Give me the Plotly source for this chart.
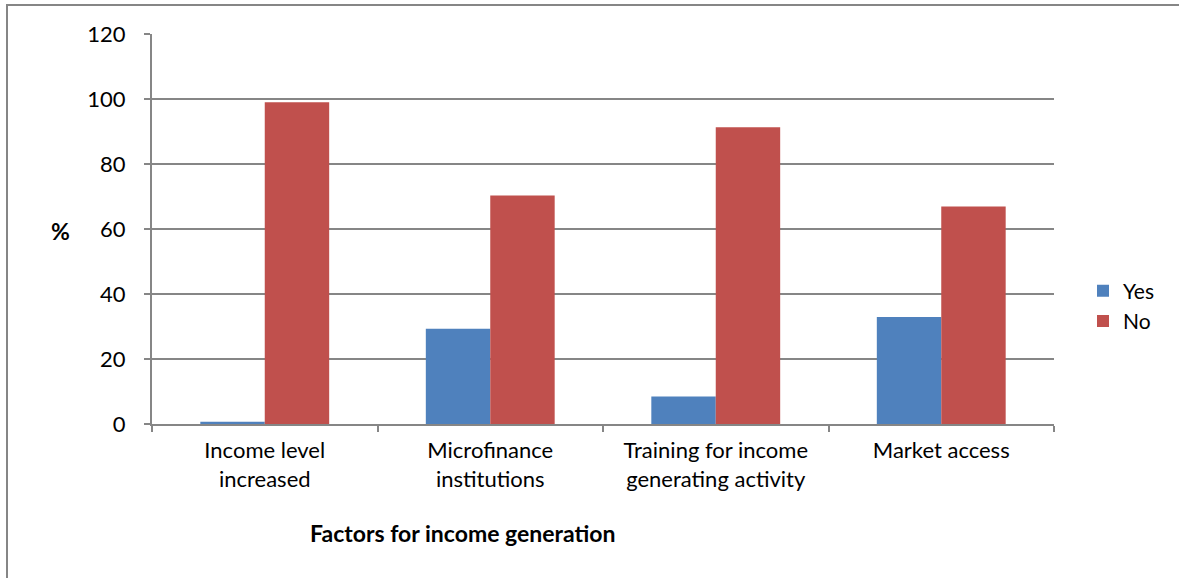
import plotly.graph_objects as go

# Survey results: share of respondents answering Yes / No per factor (%)
categories = [
    "Income level<br>increased",
    "Microfinance<br>institutions",
    "Training for income<br>generating activity",
    "Market access",
]
yes_values = [0.7, 29.3, 8.5, 32.9]
no_values = [99.0, 70.3, 91.3, 66.9]
y_ticks = [0, 20, 40, 60, 80, 100, 120]

FONT = "Lato, 'Open Sans', sans-serif"
GRID = "#868686"

fig = go.Figure()
fig.add_trace(go.Bar(name="Yes", x=categories, y=yes_values,
                     marker=dict(color="#4F81BD", line=dict(width=0))))
fig.add_trace(go.Bar(name="No", x=categories, y=no_values,
                     marker=dict(color="#C0504D", line=dict(width=0))))

W, H = 1179, 578
L, R, T, B = 152, 125, 34, 154
pw, ph = W - L - R, H - T - B


def px_x(x):
    return (x - L) / pw


def px_y(y):
    return (H - B - y) / ph


fig.update_layout(
    width=W, height=H,
    margin=dict(l=L, r=R, t=T, b=B),
    paper_bgcolor="white", plot_bgcolor="white",
    font=dict(family=FONT, size=22, color="black"),
    barmode="group", bargap=0.4286, bargroupgap=0,
    showlegend=True,
    legend=dict(x=px_x(1083), y=px_y(306), xanchor="left", yanchor="middle",
                font=dict(size=21), bgcolor="rgba(0,0,0,0)",
                itemwidth=30, tracegroupgap=0),
    xaxis=dict(
        type="category", tickson="boundaries", ticks="outside", ticklen=6,
        tickcolor=GRID, tickwidth=1.5, showline=True, linecolor=GRID, linewidth=2,
        showgrid=False, tickfont=dict(size=22), ticklabelstandoff=6,
        fixedrange=True,
    ),
    yaxis=dict(
        range=[0, 120], tickvals=y_ticks, ticks="outside", ticklen=6,
        tickcolor=GRID, tickwidth=1.5, showline=True, linecolor=GRID, linewidth=2,
        showgrid=True, gridcolor=GRID, gridwidth=1.5, zeroline=False,
        tickfont=dict(size=22), ticklabelstandoff=14, fixedrange=True,
    ),
    annotations=[
        dict(text="<b>%</b>", xref="paper", yref="paper", x=px_x(60), y=px_y(231),
             showarrow=False, font=dict(size=23), xanchor="center", yanchor="middle"),
        dict(text="<b>Factors for income generation</b>", xref="paper", yref="paper",
             x=px_x(462), y=px_y(533), showarrow=False, font=dict(size=23),
             xanchor="center", yanchor="middle"),
    ],
    shapes=[
        dict(type="rect", xref="paper", yref="paper",
             x0=px_x(7), y0=px_y(600), x1=px_x(1200), y1=px_y(5),
             line=dict(color=GRID, width=2), fillcolor="rgba(0,0,0,0)", layer="below"),
    ],
)

fig.write_html("out.html")
